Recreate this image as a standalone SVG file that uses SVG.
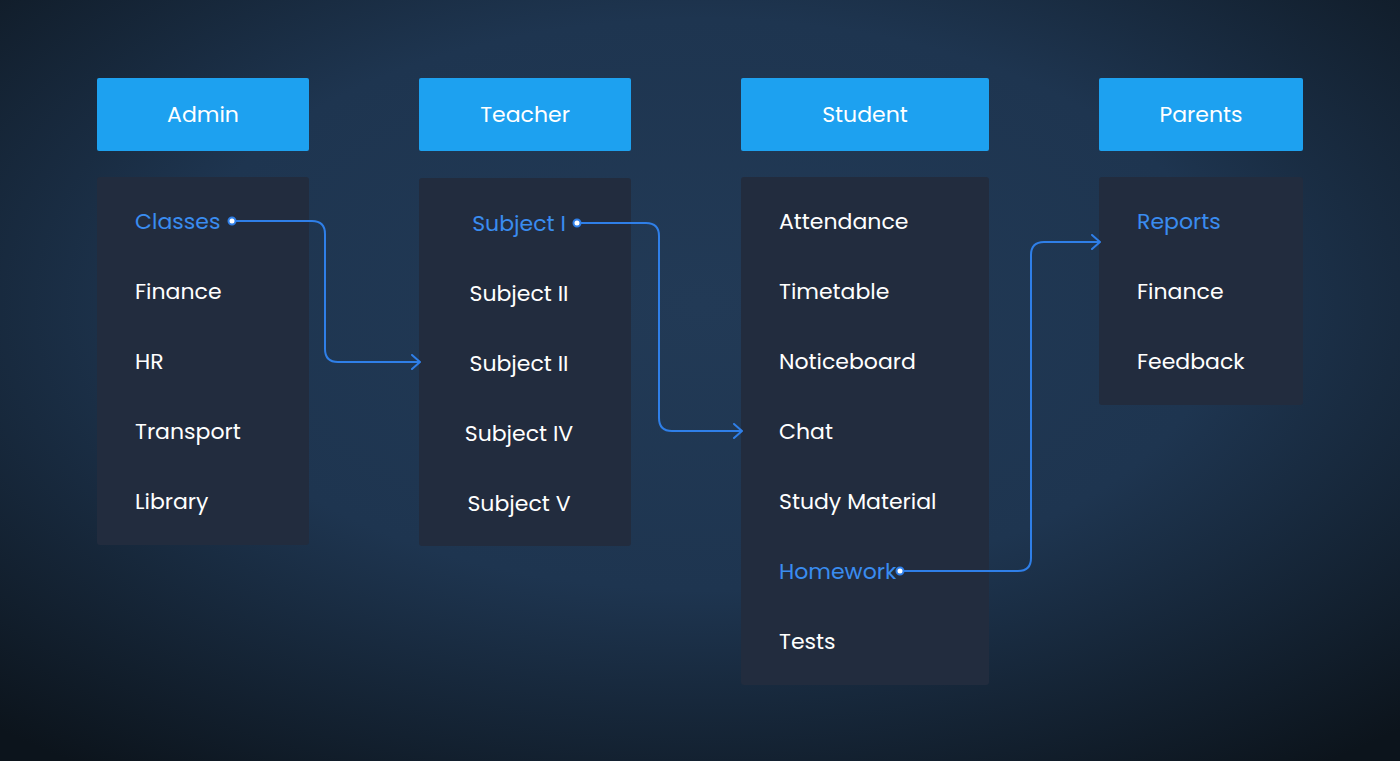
<svg xmlns="http://www.w3.org/2000/svg" width="1400" height="761" viewBox="0 0 1400 761">
<defs>
<radialGradient id="bg" cx="0.5" cy="0.4" r="0.75">
<stop offset="0" stop-color="#223a56"/>
<stop offset="0.5" stop-color="#1e3550"/>
<stop offset="1" stop-color="#0c141c"/>
</radialGradient>
<marker id="arr" markerWidth="12" markerHeight="16" refX="10" refY="8" orient="auto" markerUnits="userSpaceOnUse">
<path d="M2,1 L10,8 L2,15" fill="none" stroke="#2f7fe8" stroke-width="2" stroke-linecap="round" stroke-linejoin="round"/>
</marker>
</defs>
<style>
.hdr{fill:#1da1f0}
.pnl{fill:#222c3e}
.ht{font-family:Poppins,"Open Sans","Liberation Sans",sans-serif;font-size:22px;fill:#ffffff;text-anchor:middle}
.it{font-family:Poppins,"Open Sans","Liberation Sans",sans-serif;font-size:22px;fill:#ffffff}
.bl{fill:#3a8cf0}
.c{fill:none;stroke:#2f7fe8;stroke-width:2}
.dot{fill:#ffffff;stroke:#2f7fe8;stroke-width:2}
</style>
<rect width="1400" height="761" fill="url(#bg)"/>
<g id="admin">
<rect class="hdr" x="97" y="78" width="212" height="73" rx="2"/>
<text class="ht" x="203" y="122">Admin</text>
<rect class="pnl" x="97" y="177" width="212" height="368" rx="3"/>
<text class="it bl" x="135" y="229">Classes</text>
<text class="it" x="135" y="299">Finance</text>
<text class="it" x="135" y="369">HR</text>
<text class="it" x="135" y="439">Transport</text>
<text class="it" x="135" y="509">Library</text>
</g>
<g id="teacher">
<rect class="hdr" x="419" y="78" width="212" height="73" rx="2"/>
<text class="ht" x="525" y="122">Teacher</text>
<rect class="pnl" x="419" y="178" width="212" height="368" rx="3"/>
<text class="it bl" x="519" y="231" text-anchor="middle">Subject I</text>
<text class="it" x="519" y="301" text-anchor="middle">Subject II</text>
<text class="it" x="519" y="371" text-anchor="middle">Subject II</text>
<text class="it" x="519" y="441" text-anchor="middle">Subject IV</text>
<text class="it" x="519" y="511" text-anchor="middle">Subject V</text>
</g>
<g id="student">
<rect class="hdr" x="741" y="78" width="248" height="73" rx="2"/>
<text class="ht" x="865" y="122">Student</text>
<rect class="pnl" x="741" y="177" width="248" height="508" rx="3"/>
<text class="it" x="779" y="229">Attendance</text>
<text class="it" x="779" y="299">Timetable</text>
<text class="it" x="779" y="369">Noticeboard</text>
<text class="it" x="779" y="439">Chat</text>
<text class="it" x="779" y="509">Study Material</text>
<text class="it bl" x="779" y="579">Homework</text>
<text class="it" x="779" y="649">Tests</text>
</g>
<g id="parents">
<rect class="hdr" x="1099" y="78" width="204" height="73" rx="2"/>
<text class="ht" x="1201" y="122">Parents</text>
<rect class="pnl" x="1099" y="177" width="204" height="228" rx="3"/>
<text class="it bl" x="1137" y="229">Reports</text>
<text class="it" x="1137" y="299">Finance</text>
<text class="it" x="1137" y="369">Feedback</text>
</g>
<g id="connectors">
<path class="c" d="M232,221 H312 Q325,221 325,234 V349 Q325,362 338,362 H420" marker-end="url(#arr)"/>
<circle class="dot" cx="232" cy="221" r="3.5"/>
<path class="c" d="M577,223 H646 Q659,223 659,236 V418 Q659,431 672,431 H742" marker-end="url(#arr)"/>
<circle class="dot" cx="577" cy="223" r="3.5"/>
<path class="c" d="M900,571 H1018 Q1031,571 1031,558 V255 Q1031,242 1044,242 H1100" marker-end="url(#arr)"/>
<circle class="dot" cx="900" cy="571" r="3.5"/>
</g>
</svg>
